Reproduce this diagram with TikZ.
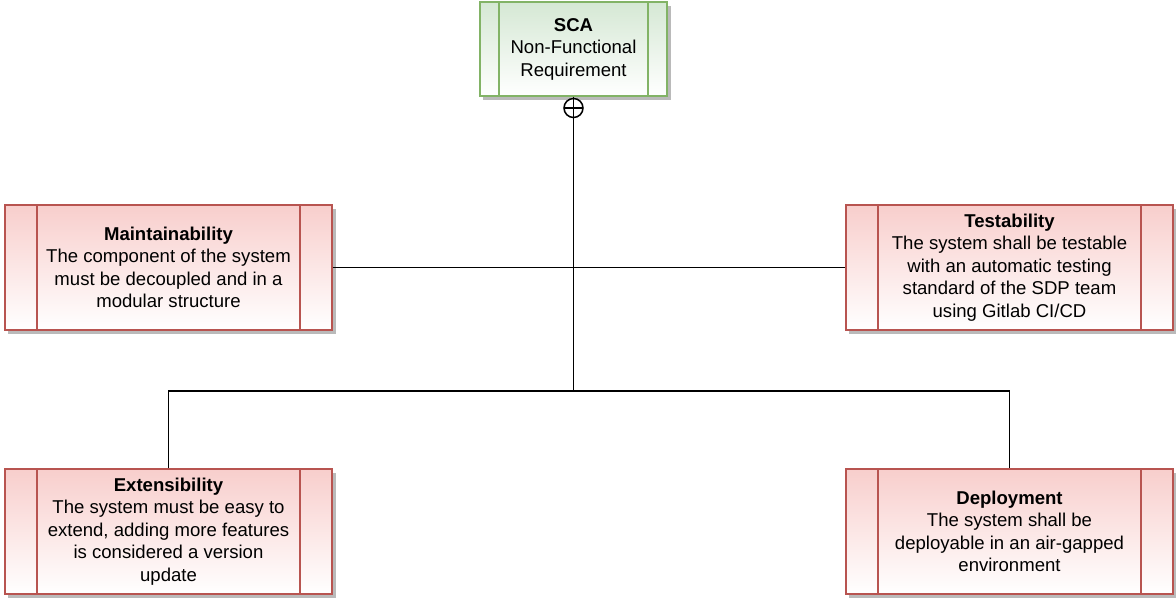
\documentclass[tikz,border=0pt]{standalone}
\usepackage{fontspec}
\setmainfont{Liberation Sans}
\usetikzlibrary{shadows}
\definecolor{redfill}{HTML}{F8CECC}
\definecolor{redline}{HTML}{B85450}
\definecolor{greenfill}{HTML}{D5E8D4}
\definecolor{greenline}{HTML}{82B366}
\tikzset{
  req/.style={draw=#1line, line width=0.9pt, top color=#1fill, bottom color=white,
    drop shadow={shadow xshift=2.5pt, shadow yshift=-2.5pt, fill=black!45, opacity=0.6},
    align=center, font=\fontsize{13.2}{16}\selectfont, inner sep=0pt},
  redreq/.style={req=red, minimum width=8.175cm, minimum height=3.125cm,
    path picture={\draw[redline, line width=0.9pt]
      ([xshift=0.8cm]path picture bounding box.north west) -- ([xshift=0.8cm]path picture bounding box.south west)
      ([xshift=-0.8cm]path picture bounding box.north east) -- ([xshift=-0.8cm]path picture bounding box.south east);}},
  greenreq/.style={req=green, minimum width=4.675cm, minimum height=2.35cm,
    path picture={\draw[greenline, line width=0.9pt]
      ([xshift=0.475cm]path picture bounding box.north west) -- ([xshift=0.475cm]path picture bounding box.south west)
      ([xshift=-0.475cm]path picture bounding box.north east) -- ([xshift=-0.475cm]path picture bounding box.south east);}},
  link/.style={line width=1.1pt, black}
}
\begin{document}
\begin{tikzpicture}[x=0.025cm, y=-0.025cm]
\useasboundingbox (0,0) rectangle (1176,599);
% requirement boxes
\node[greenreq] (sca) at (573.5,49) {\textbf{SCA}\\Non-Functional\\Requirement};
\node[redreq] (mnt) at (168.5,267.5) {\textbf{Maintainability}\\The component of the system\\must be decoupled and in a\\modular structure};
\node[redreq] (tst) at (1009.5,267.5) {\textbf{Testability}\\The system shall be testable\\with an automatic testing\\standard of the SDP team\\using Gitlab CI/CD};
\node[redreq] (ext) at (168.5,531.5) {\textbf{Extensibility}\\The system must be easy to\\extend, adding more features\\is considered a version\\update};
\node[redreq] (dep) at (1009.5,531.5) {\textbf{Deployment}\\The system shall be\\deployable in an air-gapped\\environment};
% connectors
\coordinate (junc) at (573.5,391);
\coordinate (plus) at (573.5,108);
\draw[link] (sca.south) -- (junc);
\draw[link, fill=white] (plus) circle (9.5);
\draw[link] ([yshift=9.5*0.025cm]plus) -- ([yshift=-9.5*0.025cm]plus)
  ([xshift=-9.5*0.025cm]plus) -- ([xshift=9.5*0.025cm]plus);
\draw[link] (plus) -- (junc);
\draw[link] (mnt.east) -- (tst.west);
\draw[link] (ext.north) |- (junc) -| (dep.north);
\end{tikzpicture}
\end{document}
